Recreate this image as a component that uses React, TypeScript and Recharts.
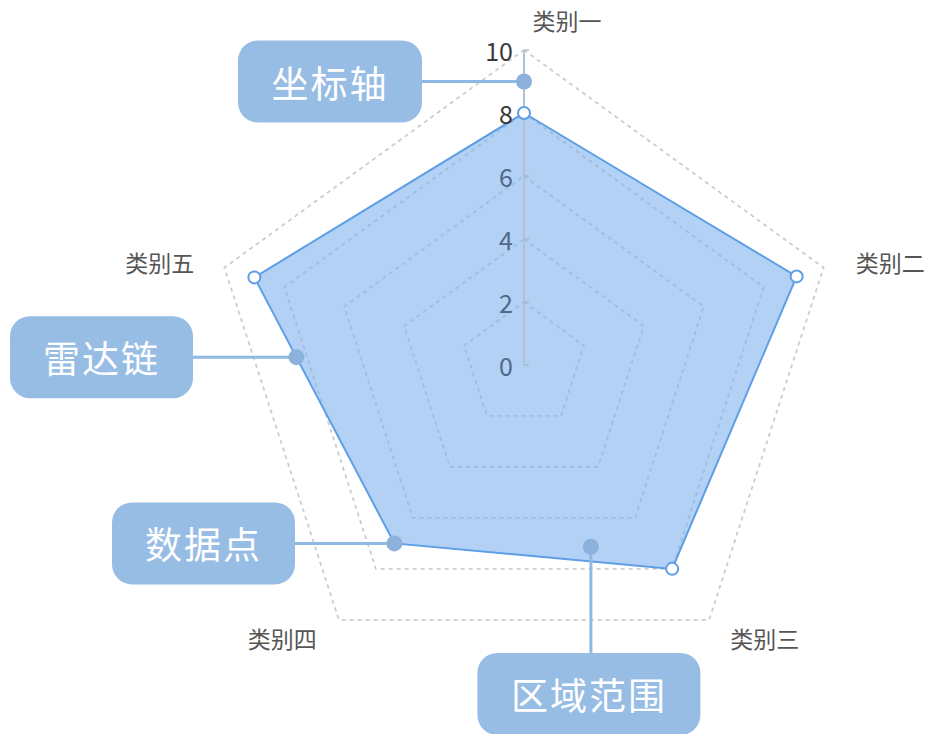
import { RadarChart, Radar, PolarGrid, PolarAngleAxis, PolarRadiusAxis } from 'recharts'

const categories = ['类别一', '类别二', '类别三', '类别四', '类别五']
const values = [8, 9.1, 8, 7, 9]
const radiusTicks = [0, 2, 4, 6, 8, 10]
const calloutLabels = ['坐标轴', '雷达链', '数据点', '区域范围']

const data = categories.map((category, i) => ({ category, value: values[i] }))

const W = 935
const H = 734
const CX = 524
const CY = 365
const R = 315
const MAX = 10
const FONT = '"Noto Sans CJK SC", "Noto Sans", sans-serif'

const polar = (v: number, deg: number) => {
  const a = (deg * Math.PI) / 180
  return { x: CX + (v / MAX) * R * Math.cos(a), y: CY - (v / MAX) * R * Math.sin(a) }
}
const catAngle = (i: number) => 90 - (360 / categories.length) * i

// label nudges around the outer ring
const labelOffsets = [
  [43, -22],
  [59, -3],
  [51, 12],
  [-52, 12],
  [-57, -3],
]

const AngleTick = (props: any) => {
  const { x, y, payload, index } = props
  const [dx, dy] = labelOffsets[index] || [0, 0]
  return (
    <text x={x + dx} y={y + dy} textAnchor="middle" dominantBaseline="central" fontSize={23} fill="#555" fontFamily={FONT}>
      {payload.value}
    </text>
  )
}

const RadiusTick = (props: any) => {
  const { x, y, payload } = props
  // ticks under the filled area look tinted in the original
  const covered = payload.value < values[0]
  return (
    <g>
      <line x1={x} y1={y} x2={x + 5} y2={y} stroke={covered ? '#9fb9d6' : '#bbb'} strokeWidth={1.5} />
      <text x={x - 11} y={y} textAnchor="end" dominantBaseline="central" fontSize={25} fill={covered ? '#50698a' : '#3a3a3a'} fontFamily={FONT}>
        {payload.value}
      </text>
    </g>
  )
}

const Callouts = () => {
  const p5 = polar(values[4], catAngle(4))
  const p4 = polar(values[3], catAngle(3))
  const anchors = [
    polar(9, 90),
    { x: p5.x + (p4.x - p5.x) * 0.3, y: p5.y + (p4.y - p5.y) * 0.3 },
    p4,
    polar(6.15, -69.8),
  ]
  const boxes = [
    { left: 238, w: 184 },
    { left: 10, w: 183 },
    { left: 112, w: 183 },
    { top: 653, w: 223 },
  ]
  const h = 82
  return (
    <svg width={W} height={H} style={{ position: 'absolute', left: 0, top: 0, pointerEvents: 'none' }}>
      {anchors.map((a, i) => {
        const b: any = boxes[i]
        let bx: number, by: number, line
        if (b.top !== undefined) {
          bx = a.x - b.w / 2 - 2
          by = b.top
          line = <line x1={a.x} y1={a.y} x2={a.x} y2={by} stroke="#8fb8e4" strokeWidth={3} />
        } else {
          bx = b.left
          by = a.y - h / 2
          line = <line x1={bx + b.w} y1={a.y} x2={a.x} y2={a.y} stroke="#8fb8e4" strokeWidth={3} />
        }
        return (
          <g key={i}>
            {line}
            <circle cx={a.x} cy={a.y} r={8} fill="#8cb2dc" />
            <rect x={bx} y={by} width={b.w} height={h} rx={20} fill="#97bde5" />
            <text
              x={bx + b.w / 2}
              y={by + h / 2}
              textAnchor="middle"
              dominantBaseline="central"
              fontSize={37}
              fill="#fff"
              fontFamily={FONT}
              letterSpacing={2}
            >
              {calloutLabels[i]}
            </text>
          </g>
        )
      })}
    </svg>
  )
}

export default function App() {
  return (
    <div style={{ position: 'fixed', left: 0, top: 0, width: W, height: H, background: '#fff' }}>
      <RadarChart width={W} height={H} cx={CX} cy={CY} outerRadius={R} data={data} margin={{ top: 0, right: 0, bottom: 0, left: 0 }}>
        <PolarGrid gridType="polygon" radialLines={false} stroke="#cccccc" strokeDasharray="4 4" strokeWidth={1.8} />
        <PolarAngleAxis dataKey="category" tick={<AngleTick />} tickLine={false} axisLine={false} />
        <PolarRadiusAxis
          angle={90}
          domain={[0, 10]}
          ticks={radiusTicks}
          tick={<RadiusTick />}
          axisLine={{ stroke: '#b3c2d3', strokeWidth: 2 }}
          tickLine={false}
        />
        <Radar
          dataKey="value"
          stroke="#5e9ee6"
          strokeWidth={2}
          fill="#7fb3ec"
          fillOpacity={0.6}
          dot={{ r: 6, fill: '#fff', stroke: '#5e9ee6', strokeWidth: 2, fillOpacity: 1 }}
          isAnimationActive={false}
        />
      </RadarChart>
      <Callouts />
    </div>
  )
}
